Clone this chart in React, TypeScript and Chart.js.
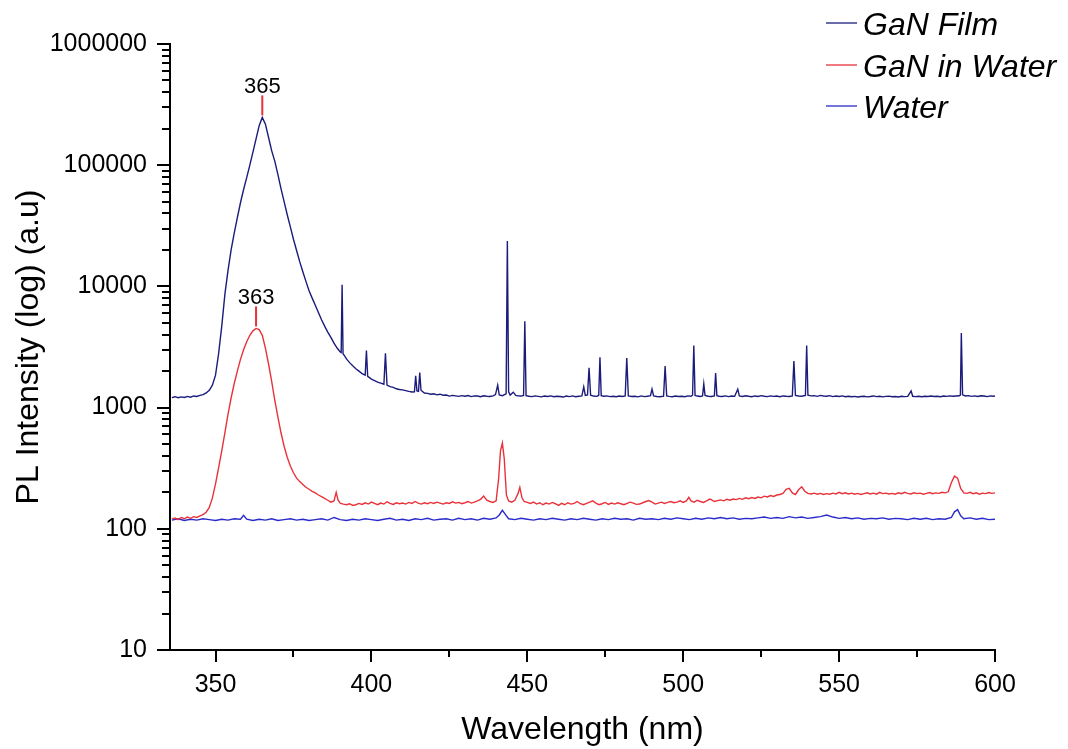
import { useEffect, useRef } from "react";
import { Chart, registerables } from "chart.js";

Chart.register(...registerables);

const FONT = "'Liberation Sans', Arial, Helvetica, sans-serif";

const seriesLabels = ["GaN Film", "GaN in Water", "Water"];
const seriesColors = ["#1b1b7c", "#e8323a", "#2b2bcc"];

const xMajorTicks = [350, 400, 450, 500, 550, 600];
const xMinorTicks = [375, 425, 475, 525, 575];
const yMajorTicks = [10, 100, 1000, 10000, 100000, 1000000];
const yMinorFactors = [2, 3, 4, 5, 6, 7, 8, 9];

const peakLabels = ["365", "363"];
const peakWavelengths = [365, 363];
const peakSeries = [0, 1];

// [wavelength (nm), PL intensity (a.u.)]
const ganFilm: [number, number][] = [
  [336, 1210], [337, 1230], [338, 1205], [339, 1225], [340, 1212], [341, 1238], [342, 1218], [343, 1248], [344, 1236], [345, 1262],
  [346, 1280], [347, 1320], [348, 1390], [349, 1530], [350, 1850], [351, 2800], [352, 4700], [353, 8600], [354, 13500], [355, 20000],
  [356, 27500], [357, 37000], [358, 49000], [359, 63000], [360, 79000], [361, 100000], [362, 128000], [363, 165000], [364, 212000], [365, 248000],
  [366, 218000], [367, 170000], [368, 132000], [369, 108000], [370, 84000], [371, 64000], [372, 50000], [373, 39000], [374, 31000], [375, 24500],
  [376, 19800], [377, 16000], [378, 13200], [379, 11000], [380, 9200], [381, 8000], [382, 7000], [383, 6100], [384, 5300], [385, 4700],
  [386, 4200], [387, 3800], [388, 3400], [389, 3100], [390, 2880], [390.3, 2850], [390.6, 10300], [390.9, 2780], [391.5, 2650], [392, 2520],
  [393, 2350], [394, 2210], [395, 2090], [396, 2000], [397, 1910], [398, 1850], [398.4, 2950], [398.8, 1810], [399.5, 1760], [400, 1720],
  [401, 1670], [402, 1620], [403, 1590], [404, 1560], [404.5, 2800], [405, 1535], [406, 1490], [407, 1470], [408, 1430], [409, 1410],
  [410, 1400], [411, 1380], [412, 1360], [413, 1345], [413.8, 1350], [414.2, 1830], [414.6, 1370], [415.1, 1360], [415.5, 1950], [415.9, 1390],
  [417, 1320], [418, 1310], [419, 1290], [420, 1300], [421, 1275], [422, 1290], [423, 1265], [424, 1270], [425, 1245], [426, 1262],
  [427, 1250], [428, 1238], [429, 1255], [430, 1240], [431, 1258], [432, 1232], [433, 1250], [434, 1245], [435, 1228], [436, 1252],
  [437, 1240], [438, 1236], [439, 1248], [439.8, 1280], [440.5, 1530], [441, 1270], [442, 1255], [443.2, 1300], [443.6, 23700], [444, 1350],
  [444.5, 1270], [445.5, 1340], [446.3, 1260], [447, 1250], [448, 1245], [448.8, 1260], [449.2, 5150], [449.6, 1255], [450.5, 1240], [451.5, 1232],
  [452.5, 1250], [453.5, 1238], [454.5, 1226], [455.5, 1245], [456.5, 1235], [457.5, 1250], [458.5, 1228], [459.5, 1240], [460.5, 1236], [461.5, 1222],
  [462.5, 1245], [463.5, 1232], [464.5, 1248], [465.5, 1230], [466.5, 1240], [467.5, 1250], [468.1, 1480], [468.6, 1260], [469.3, 1270], [469.8, 2130],
  [470.3, 1265], [471.2, 1245], [472.2, 1238], [472.9, 1260], [473.3, 2600], [473.7, 1255], [474.5, 1240], [475.5, 1250], [476.5, 1232], [477.5, 1242],
  [478.5, 1228], [479.5, 1245], [480.5, 1236], [481.4, 1250], [481.9, 2570], [482.4, 1248], [483.5, 1236], [484.5, 1240], [485.5, 1226], [486.5, 1248],
  [487.5, 1232], [488.5, 1240], [489.5, 1255], [490, 1420], [490.5, 1250], [491.5, 1236], [492.5, 1228], [493.7, 1245], [494.2, 2200], [494.7, 1250],
  [495.5, 1238], [496.5, 1230], [497.5, 1246], [498.5, 1235], [499.5, 1242], [500.5, 1228], [501.5, 1250], [502.5, 1240], [503, 1265], [503.4, 3250],
  [503.8, 1260], [504.5, 1245], [505.5, 1236], [506.2, 1250], [506.6, 1570], [507, 1260], [508, 1240], [509, 1236], [510, 1250], [510.4, 1930],
  [510.8, 1255], [511.5, 1242], [512.5, 1236], [513.5, 1250], [514.5, 1232], [515.5, 1245], [516.5, 1238], [517.5, 1420], [518, 1248], [519, 1236],
  [520, 1252], [521, 1240], [522, 1230], [523, 1248], [524, 1236], [525, 1255], [526, 1240], [527, 1232], [528, 1250], [529, 1238],
  [530, 1246], [531, 1230], [532, 1248], [533, 1240], [534, 1236], [535, 1250], [535.5, 2420], [536, 1260], [537, 1248], [538, 1240],
  [539.2, 1262], [539.6, 3250], [540, 1268], [541, 1250], [542, 1255], [543, 1238], [544, 1262], [545, 1248], [546, 1240], [547, 1255],
  [548, 1232], [549, 1245], [550, 1236], [551, 1250], [552, 1228], [553, 1242], [554, 1230], [555, 1238], [556, 1222], [557, 1236],
  [558, 1240], [559, 1226], [560, 1235], [561, 1248], [562, 1232], [563, 1240], [564, 1226], [565, 1238], [566, 1244], [567, 1230],
  [568, 1236], [569, 1222], [570, 1240], [571, 1232], [572, 1238], [573.1, 1370], [573.6, 1240], [574.5, 1232], [575.5, 1242], [576.5, 1228],
  [577.5, 1240], [578.5, 1235], [579.5, 1248], [580.5, 1236], [581.5, 1242], [582.5, 1230], [583.5, 1245], [584.5, 1238], [585.5, 1250], [586.5, 1240],
  [587.5, 1246], [588.5, 1252], [588.9, 1270], [589.2, 4130], [589.6, 1275], [590.5, 1248], [591.5, 1255], [592.5, 1238], [593.5, 1250], [594.5, 1236],
  [595.5, 1252], [596.5, 1245], [597.5, 1232], [598.5, 1250], [599.5, 1240], [600, 1245],
];

const ganInWater: [number, number][] = [
  [336, 120], [337, 123], [338, 119], [339, 124], [340, 121], [341, 125], [342, 122], [343, 126], [344, 124], [345, 128],
  [346, 131], [347, 137], [348, 150], [349, 180], [350, 235], [351, 320], [352, 440], [353, 620], [354, 880], [355, 1200],
  [356, 1580], [357, 2000], [358, 2500], [359, 3000], [360, 3500], [361, 3950], [362, 4300], [363, 4500], [364, 4400], [365, 3950],
  [366, 3100], [367, 2300], [368, 1650], [369, 1150], [370, 840], [371, 620], [372, 480], [373, 390], [374, 330], [375, 290],
  [376, 262], [377, 245], [378, 232], [379, 220], [380, 212], [381, 204], [382, 198], [383, 190], [384, 184], [385, 178],
  [386, 172], [387, 166], [388, 170], [388.7, 200], [389.3, 172], [390, 163], [391, 160], [392, 158], [393, 161], [394, 156],
  [395, 158], [396, 162], [397, 159], [398, 164], [399, 160], [400, 166], [401, 162], [402, 158], [403, 163], [404, 160],
  [405, 167], [406, 162], [407, 159], [408, 164], [409, 161], [410, 163], [411, 160], [412, 165], [413, 162], [414, 168],
  [415, 163], [416, 160], [417, 164], [418, 161], [419, 165], [420, 162], [421, 166], [422, 163], [423, 160], [424, 164],
  [425, 162], [426, 167], [427, 163], [428, 165], [429, 161], [430, 164], [431, 168], [432, 163], [433, 166], [434, 170],
  [435, 175], [436, 186], [437, 172], [438, 168], [439, 165], [440, 170], [440.8, 260], [441.4, 440], [442, 510], [442.6, 380],
  [443.3, 190], [444, 170], [445, 166], [446, 172], [447, 195], [447.6, 220], [448.3, 180], [449, 168], [450, 165], [451, 162],
  [452, 166], [453, 160], [454, 164], [455, 158], [456, 163], [457, 160], [458, 165], [459, 161], [460, 156], [461, 162],
  [462, 158], [463, 164], [464, 160], [465, 162], [466, 168], [467, 161], [468, 158], [469, 162], [470, 166], [471, 170],
  [472, 163], [473, 158], [474, 161], [475, 165], [476, 159], [477, 163], [478, 160], [479, 164], [480, 161], [481, 158],
  [482, 162], [483, 166], [484, 163], [485, 159], [486, 160], [487, 164], [488, 168], [489, 171], [490, 166], [491, 160],
  [492, 163], [493, 166], [494, 162], [495, 165], [496, 168], [497, 164], [498, 166], [499, 170], [500, 165], [501, 170],
  [501.8, 182], [502.5, 170], [503.5, 166], [504.5, 172], [505.5, 168], [506.5, 165], [507.5, 170], [508.5, 176], [509, 174], [510, 168],
  [511, 171], [512, 173], [513, 170], [514, 175], [515, 172], [516, 176], [517, 174], [518, 178], [519, 175], [520, 180],
  [521, 177], [522, 181], [523, 178], [524, 183], [525, 180], [526, 186], [527, 183], [528, 188], [529, 185], [530, 190],
  [531, 192], [532, 196], [533, 212], [534, 216], [535, 198], [536, 192], [537, 210], [538, 222], [539, 204], [540, 196],
  [541, 194], [542, 197], [543, 193], [544, 196], [545, 192], [546, 195], [547, 193], [548, 197], [549, 194], [550, 200],
  [551, 195], [552, 198], [553, 194], [554, 197], [555, 193], [556, 196], [557, 192], [558, 195], [559, 198], [560, 194],
  [561, 197], [562, 193], [563, 200], [564, 195], [565, 197], [566, 194], [567, 196], [568, 193], [569, 198], [570, 195],
  [571, 200], [572, 196], [573, 194], [574, 198], [575, 195], [576, 197], [577, 193], [578, 196], [579, 199], [580, 195],
  [581, 198], [582, 196], [583, 200], [584, 198], [585, 202], [586, 240], [587, 272], [588, 262], [589, 215], [590, 198],
  [591, 196], [592, 200], [593, 195], [594, 198], [595, 193], [596, 197], [597, 195], [598, 199], [599, 196], [600, 198],
];

const water: [number, number][] = [
  [336, 118], [338, 121], [340, 117], [342, 120], [344, 118], [346, 121], [348, 119], [350, 117], [352, 120], [354, 118],
  [356, 121], [358, 120], [359, 129], [360, 120], [362, 117], [364, 120], [366, 118], [368, 121], [370, 117], [372, 119],
  [374, 121], [376, 118], [378, 120], [380, 117], [382, 119], [384, 121], [386, 118], [388, 124], [390, 119], [392, 117],
  [394, 120], [396, 118], [398, 121], [400, 119], [402, 117], [404, 120], [406, 122], [408, 118], [410, 120], [412, 117],
  [414, 121], [416, 119], [418, 122], [420, 118], [422, 120], [424, 121], [426, 118], [428, 122], [430, 119], [432, 121],
  [434, 118], [436, 122], [438, 120], [440, 123], [441, 130], [442, 142], [443, 131], [444, 121], [446, 119], [448, 122],
  [450, 120], [452, 118], [454, 121], [456, 119], [458, 122], [460, 120], [462, 118], [464, 121], [466, 119], [468, 122],
  [470, 120], [472, 118], [474, 121], [476, 119], [478, 122], [480, 120], [482, 121], [484, 118], [486, 122], [488, 120],
  [490, 121], [492, 119], [494, 122], [496, 120], [498, 123], [500, 121], [502, 119], [504, 122], [506, 120], [508, 123],
  [510, 121], [512, 124], [514, 121], [516, 123], [518, 120], [520, 122], [522, 121], [524, 123], [526, 125], [528, 122],
  [530, 124], [532, 122], [534, 126], [536, 123], [538, 125], [540, 122], [542, 124], [544, 126], [546, 130], [548, 125],
  [550, 122], [552, 124], [554, 121], [556, 123], [558, 120], [560, 122], [562, 121], [564, 123], [566, 120], [568, 122],
  [570, 121], [572, 119], [574, 122], [576, 120], [578, 122], [580, 119], [582, 121], [584, 120], [586, 124], [587, 138],
  [588, 144], [589, 128], [590, 121], [592, 123], [594, 120], [596, 122], [598, 119], [600, 120],
];

const allSeries = [ganFilm, ganInWater, water];

const decorPlugin = {
  id: "decor",
  afterDraw(chart: any) {
    const { ctx, chartArea, scales } = chart;
    const xs = scales.x;
    const ys = scales.y;
    ctx.save();
    ctx.strokeStyle = "#000";
    ctx.lineWidth = 2;
    const seg = (x1: number, y1: number, x2: number, y2: number) => {
      ctx.beginPath();
      ctx.moveTo(x1, y1);
      ctx.lineTo(x2, y2);
      ctx.stroke();
    };
    // y ticks (outward)
    yMajorTicks.forEach((v, i) => {
      const py = Math.round(ys.getPixelForValue(v));
      seg(chartArea.left - 13, py, chartArea.left, py);
      if (i < yMajorTicks.length - 1) {
        yMinorFactors.forEach((f) => {
          const pm = Math.round(ys.getPixelForValue(v * f));
          seg(chartArea.left - 8, pm, chartArea.left, pm);
        });
      }
    });
    // x ticks (outward)
    xMajorTicks.forEach((v) => {
      const px = Math.round(xs.getPixelForValue(v));
      seg(px, chartArea.bottom, px, chartArea.bottom + 12);
    });
    xMinorTicks.forEach((v) => {
      const px = Math.round(xs.getPixelForValue(v));
      seg(px, chartArea.bottom, px, chartArea.bottom + 7);
    });

    // peak annotations
    peakLabels.forEach((lab, i) => {
      const data = allSeries[peakSeries[i]];
      const pt = data.find((d) => d[0] === peakWavelengths[i]);
      if (!pt) return;
      const px = xs.getPixelForValue(pt[0]);
      const py = ys.getPixelForValue(pt[1]);
      ctx.strokeStyle = "#e8323a";
      ctx.lineWidth = 2;
      seg(px, py - 2, px, py - 22);
      ctx.fillStyle = "#000";
      ctx.font = `22px ${FONT}`;
      ctx.textAlign = "center";
      ctx.textBaseline = "alphabetic";
      ctx.fillText(lab, px, py - 24);
    });

    // legend
    const rows = [23, 65, 106];
    chart.data.datasets.forEach((ds: any, i: number) => {
      const ly = rows[i];
      ctx.strokeStyle = ds.borderColor;
      ctx.lineWidth = 1.3;
      seg(826, ly, 857, ly);
      ctx.fillStyle = "#000";
      ctx.font = `italic 32px ${FONT}`;
      ctx.textAlign = "left";
      ctx.textBaseline = "alphabetic";
      ctx.fillText(ds.label, 863, ly + 12);
    });
    ctx.restore();
  },
};

export default function App() {
  const ref = useRef<HTMLCanvasElement | null>(null);
  useEffect(() => {
    if (!ref.current) return;
    const chart = new Chart(ref.current, {
      type: "line",
      data: {
        datasets: allSeries.map((s, i) => ({
          label: seriesLabels[i],
          data: s.map(([x, y]) => ({ x, y })),
          borderColor: seriesColors[i],
          backgroundColor: seriesColors[i],
          borderWidth: 1.4,
          pointRadius: 0,
          tension: 0,
          fill: false,
        })),
      },
      options: {
        animation: false,
        responsive: false,
        layout: { padding: { left: 0, right: 73, top: 44, bottom: 0 } },
        plugins: { legend: { display: false }, tooltip: { enabled: false } },
        scales: {
          x: {
            type: "linear",
            min: 335.4,
            max: 600,
            afterBuildTicks: (s: any) => {
              s.ticks = xMajorTicks.map((v) => ({ value: v }));
            },
            afterFit: (s: any) => {
              s.height = 99;
            },
            grid: { display: false, drawTicks: false },
            border: { display: true, color: "#000", width: 2 },
            ticks: {
              color: "#000",
              font: { family: FONT, size: 25 },
              padding: 20,
              maxRotation: 0,
              autoSkip: false,
              callback: (v: any) => String(v),
            },
            title: {
              display: true,
              text: "Wavelength (nm)",
              color: "#000",
              font: { family: FONT, size: 32 },
              padding: { top: 0, bottom: 0 },
            },
          },
          y: {
            type: "logarithmic",
            min: 10,
            max: 1000000,
            afterBuildTicks: (s: any) => {
              s.ticks = yMajorTicks.map((v) => ({ value: v }));
            },
            afterFit: (s: any) => {
              s.width = 170;
            },
            grid: { display: false, drawTicks: false },
            border: { display: true, color: "#000", width: 2 },
            ticks: {
              color: "#000",
              font: { family: FONT, size: 25 },
              padding: 23,
              autoSkip: false,
              callback: (v: any) => String(v),
            },
            title: {
              display: true,
              text: "PL Intensity (log) (a.u)",
              color: "#000",
              font: { family: FONT, size: 32 },
              padding: { top: 10, bottom: 0 },
            },
          },
        },
      },
      plugins: [decorPlugin],
    });
    return () => chart.destroy();
  }, []);
  return (
    <div style={{ position: "absolute", left: 0, top: 0, width: 1068, height: 749, background: "#fff" }}>
      <canvas ref={ref} width={1068} height={749} />
    </div>
  );
}
